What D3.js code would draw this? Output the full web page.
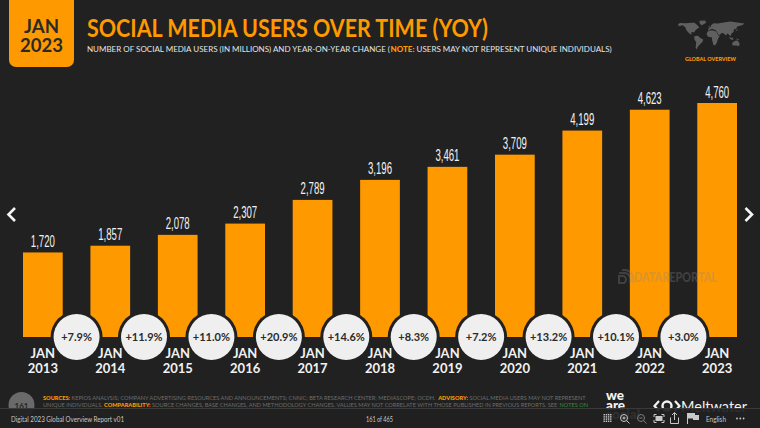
<!DOCTYPE html>
<html>
<head>
<meta charset="utf-8">
<script src="https://d3js.org/d3.v7.min.js"></script>
<style>
html, body { margin: 0; padding: 0; background: #212121; overflow: hidden; }
text { font-family: Lato, sans-serif; }
</style>
</head>
<body>
<div id="chart"></div>
<script>
// chart values
var years = ['2013', '2014', '2015', '2016', '2017', '2018', '2019', '2020', '2021', '2022', '2023'];
var users = [1720, 1857, 2078, 2307, 2789, 3196, 3461, 3709, 4199, 4623, 4760];
var changes = ['+7.9%', '+11.9%', '+11.0%', '+20.9%', '+14.6%', '+8.3%', '+7.2%', '+13.2%', '+10.1%', '+3.0%'];

// rough continents for the little map logo, [lon, lat]
var continents = [
  [[-165,65],[-155,71],[-125,70],[-95,72],[-80,72],[-62,58],[-55,50],[-66,44],[-76,36],[-81,26],[-90,29],[-97,26],[-95,18],[-84,10],[-79,8],[-90,14],[-105,20],[-115,30],[-124,40],[-125,49],[-140,60],[-160,56]],
  [[-55,82],[-25,83],[-20,72],[-42,60],[-52,66]],
  [[-80,10],[-62,11],[-50,0],[-35,-7],[-39,-18],[-50,-28],[-62,-40],[-70,-54],[-74,-45],[-71,-20],[-81,-5]],
  [[-10,36],[-9,44],[-2,49],[5,54],[5,60],[18,70],[40,68],[70,73],[105,78],[140,73],[178,68],[165,60],[140,55],[135,44],[122,40],[122,30],[110,20],[107,10],[100,13],[95,18],[90,22],[80,12],[73,20],[60,25],[57,20],[45,13],[35,30],[28,38],[18,40],[12,44],[3,42]],
  [[-17,15],[-16,25],[-8,35],[10,37],[32,31],[43,11],[51,12],[40,-5],[36,-20],[28,-33],[18,-34],[12,-15],[9,4],[-8,5]],
  [[114,-22],[130,-12],[142,-11],[153,-27],[148,-38],[136,-35],[116,-35]],
  [[96,5],[106,-6],[120,-9],[118,2],[108,2]],
  [[132,-2],[150,-6],[146,-9],[136,-6]],
  [[130,32],[141,44],[143,38],[136,34]],
  [[-6,50],[0,52],[-2,58],[-7,56]]
];

var width = 760, height = 428;
var orange = '#ff9900', bg = '#212121';

var svg = d3.select('#chart').append('svg')
  .attr('width', width)
  .attr('height', height)
  .style('display', 'block');

svg.append('rect').attr('width', width).attr('height', height).attr('fill', bg);

// lays out text runs side by side and sizes the font so the row fills rowWidth
function fitRow(parts, xPos, yPos, rowWidth, color) {
  var base = 10, g = svg.append('g');
  var runs = parts.map(function(p) {
    return g.append('text').attr('y', yPos)
      .attr('fill', p[1] || color)
      .style('font-weight', p[1] === orange ? 900 : 400)
      .style('font-size', base + 'px')
      .style('white-space', 'pre')
      .attr('xml:space', 'preserve')
      .text(p[0]);
  });
  var total = d3.sum(runs, function(r) { return r.node().getComputedTextLength(); });
  var k = rowWidth / total, cur = xPos;
  runs.forEach(function(r) {
    var w = r.node().getComputedTextLength() * k;
    r.attr('x', cur).style('font-size', (base * k) + 'px');
    cur += w;
  });
}

// bars
var x = d3.scaleBand().domain(years).range([23, 737]).paddingInner(0.411).paddingOuter(0);
var y = d3.scaleLinear().domain([0, 4760]).range([337, 103]);

svg.append('g').selectAll('rect')
  .data(users)
  .join('rect')
  .attr('x', function(d, i) { return x(years[i]); })
  .attr('y', function(d) { return y(d); })
  .attr('width', x.bandwidth())
  .attr('height', function(d) { return y(0) - y(d); })
  .attr('fill', orange);

svg.append('g').selectAll('text')
  .data(users)
  .join('text')
  .attr('x', function(d, i) { return x(years[i]) + x.bandwidth() / 2 - 12; })
  .attr('y', function(d) { return y(d) - 5.5; })
  .attr('fill', '#f2f2f2')
  .style('font-family', '"Liberation Sans", sans-serif')
  .style('font-size', '16px')
  .attr('textLength', 24).attr('lengthAdjust', 'spacingAndGlyphs')
  .text(d3.format(','));

// watermark sits on top of the bars
var mark = svg.append('g').attr('opacity', 0.3);
mark.append('text')
  .attr('x', 634).attr('y', 282)
  .attr('fill', '#8a8a8a')
  .style('font-size', '12.5px').style('font-weight', 900)
  .attr('textLength', 83).attr('lengthAdjust', 'spacingAndGlyphs')
  .text('DATAREPORTAL');
mark.append('path')
  .attr('d', 'M619 283v-7h5a4 4 0 0 1 0 7zM619 273h6a7 7 0 0 1 5 10M622 270h4a10 10 0 0 1 7 13')
  .attr('fill', 'none').attr('stroke', '#8a8a8a').attr('stroke-width', 2);

// change bubbles between the bars
var bubbleX = function(i) { return (x(years[i]) + x(years[i + 1]) + x.bandwidth()) / 2; };

var bubbles = svg.append('g').selectAll('g')
  .data(changes)
  .join('g')
  .attr('transform', function(d, i) { return 'translate(' + bubbleX(i) + ',' + y(0) + ')'; });
bubbles.append('circle').attr('r', 26).attr('fill', bg);
bubbles.append('circle').attr('r', 23).attr('fill', '#efefef');
bubbles.append('text')
  .attr('text-anchor', 'middle')
  .attr('dy', 4)
  .attr('fill', '#2b2b2b')
  .style('font-size', '11px').style('font-weight', 700)
  .text(function(d) { return d; });

// year axis, two lines per tick
var axis = d3.axisBottom(x).tickSize(0).tickPadding(0);
var axisG = svg.append('g').attr('transform', 'translate(0,337)').call(axis);
axisG.select('.domain').remove();
axisG.selectAll('.tick text').each(function(d) {
  var t = d3.select(this).text(null)
    .attr('dy', null)
    .attr('y', null)
    .attr('fill', '#f2f2f2')
    .style('font-family', 'Lato, sans-serif')
    .style('font-size', '13px').style('font-weight', 700);
  t.append('tspan').attr('x', 0).attr('y', 21).text('JAN');
  t.append('tspan').attr('x', 0).attr('y', 36).text(d);
});

// date badge
svg.append('path')
  .attr('d', 'M9 0H74V60a7 7 0 0 1 -7 7H16a7 7 0 0 1 -7 -7Z')
  .attr('fill', orange);
svg.append('text').attr('x', 24).attr('y', 33)
  .attr('fill', '#2a2a2a').style('font-size', '18.5px').style('font-weight', 700)
  .attr('textLength', 35).attr('lengthAdjust', 'spacingAndGlyphs').text('JAN');
svg.append('text').attr('x', 20).attr('y', 51.5)
  .attr('fill', '#2a2a2a').style('font-size', '18.5px').style('font-weight', 700)
  .attr('textLength', 43).attr('lengthAdjust', 'spacingAndGlyphs').text('2023');

// titles
svg.append('text').attr('x', 87).attr('y', 36.5)
  .attr('fill', orange)
  .style('font-size', '24px').style('font-weight', 700)
  .attr('textLength', 401).attr('lengthAdjust', 'spacingAndGlyphs')
  .text('SOCIAL MEDIA USERS OVER TIME (YOY)');

fitRow([['NUMBER OF SOCIAL MEDIA USERS (IN MILLIONS) AND YEAR-ON-YEAR CHANGE ('], ['NOTE:', orange], [' USERS MAY NOT REPRESENT UNIQUE INDIVIDUALS)']],
  87, 52, 525, '#e4e4e4');

// map logo
var mapX = d3.scaleLinear().domain([-170, 180]).range([677, 745]);
var mapY = d3.scaleLinear().domain([85, -56]).range([20, 50]);
var ring = d3.line()
  .x(function(d) { return mapX(d[0]); })
  .y(function(d) { return mapY(d[1]); })
  .curve(d3.curveLinearClosed);
svg.append('g').selectAll('path')
  .data(continents)
  .join('path')
  .attr('d', ring)
  .attr('fill', '#5f5f5f');
svg.append('text').attr('x', 685).attr('y', 60.5)
  .attr('fill', orange)
  .style('font-size', '5.4px').style('font-weight', 900)
  .attr('textLength', 51).attr('lengthAdjust', 'spacingAndGlyphs')
  .text('GLOBAL OVERVIEW');

// slide arrows
svg.append('path').attr('d', 'M15 208l-6.5 6.5l6.5 6.5')
  .attr('fill', 'none').attr('stroke', '#f5f5f5').attr('stroke-width', 2.6);
svg.append('path').attr('d', 'M745.5 208l6.5 6.5l-6.5 6.5')
  .attr('fill', 'none').attr('stroke', '#f5f5f5').attr('stroke-width', 2.6);

// source notes
var noteColor = '#6d6d6d';
svg.append('circle').attr('cx', 21.5).attr('cy', 405).attr('r', 13).attr('fill', '#6a6a6a');
svg.append('text').attr('x', 21.5).attr('y', 409).attr('text-anchor', 'middle')
  .attr('fill', '#222').style('font-size', '8px').style('font-weight', 700).text('161');

fitRow([['SOURCES:', orange], [' KEPIOS ANALYSIS; COMPANY ADVERTISING RESOURCES AND ANNOUNCEMENTS; CNNIC; BETA RESEARCH CENTER; MEDIASCOPE; OCDH. '],
  ['ADVISORY:', orange], [' SOCIAL MEDIA USERS MAY NOT REPRESENT']], 43, 399.5, 543, noteColor);
fitRow([['UNIQUE INDIVIDUALS. '], ['COMPARABILITY:', orange], [' SOURCE CHANGES, BASE CHANGES, AND METHODOLOGY CHANGES. VALUES MAY NOT CORRELATE WITH THOSE PUBLISHED IN PREVIOUS REPORTS. SEE '],
  ['NOTES ON', '#2f8f3a']], 43, 407, 545, noteColor);
fitRow([['DATA FOR FURTHER DETAILS.']], 43, 414.5, 70, noteColor);

// logos
svg.append('g').selectAll('text')
  .data(['we', 'are', 'social'])
  .join('text')
  .attr('x', 606)
  .attr('y', function(d, i) { return 400 + i * 9.5; })
  .attr('fill', '#f2f2f2')
  .style('font-size', '13.5px').style('font-weight', 900)
  .text(function(d) { return d; });
svg.append('text').attr('x', 681).attr('y', 412).attr('fill', '#f2f2f2')
  .style('font-size', '15.5px')
  .attr('textLength', 66).attr('lengthAdjust', 'spacingAndGlyphs').text('Meltwater');
svg.append('circle').attr('cx', 667).attr('cy', 406).attr('r', 4.5)
  .attr('fill', 'none').attr('stroke', '#f2f2f2').attr('stroke-width', 2.4);
svg.append('path').attr('d', 'M659 401l-4.5 5l4.5 5M675 401l4.5 5l-4.5 5')
  .attr('fill', 'none').attr('stroke', '#f2f2f2').attr('stroke-width', 2.2);

// viewer toolbar over the slide bottom
svg.append('rect').attr('x', 0).attr('y', 408).attr('width', width).attr('height', 20)
  .attr('fill', '#202020').attr('opacity', 0.93);
svg.append('line').attr('x1', 0).attr('x2', width).attr('y1', 408.5).attr('y2', 408.5)
  .attr('stroke', '#3a3a3a').attr('stroke-width', 1);

var barText = [['Digital 2023 Global Overview Report v01', 11, 113], ['161 of 465', 366, 27], ['English', 706, 20]];
svg.append('g').selectAll('text')
  .data(barText)
  .join('text')
  .attr('x', function(d) { return d[1]; })
  .attr('y', 421.5)
  .attr('fill', '#c9c9c9')
  .style('font-size', '7px')
  .attr('textLength', function(d) { return d[2]; })
  .attr('lengthAdjust', 'spacingAndGlyphs')
  .text(function(d) { return d[0]; });

// toolbar icons
var icons = svg.append('g').attr('fill', 'none').attr('stroke', '#c9c9c9').attr('stroke-width', 1);
var dots = d3.cross([0, 1, 2, 3], [0, 1, 2, 3]);
svg.append('g').selectAll('rect').data(dots).join('rect')
  .attr('x', function(d) { return 603.5 + d[0] * 2.2; })
  .attr('y', function(d) { return 414 + d[1] * 2.2; })
  .attr('width', 1.4).attr('height', 1.4).attr('fill', '#c9c9c9');
icons.append('circle').attr('cx', 624).attr('cy', 418).attr('r', 3.5);
icons.append('path').attr('d', 'M626.5 420.5l3 3M622.5 418h3M624 416.5v3');
icons.append('circle').attr('cx', 641).attr('cy', 418).attr('r', 3.5).attr('stroke', '#7a7a7a');
icons.append('path').attr('d', 'M643.5 420.5l3 3M639.5 418h3').attr('stroke', '#7a7a7a');
icons.append('path').attr('d', 'M654 417v-2.5h2.5M661.5 414.5h2.5v2.5M664 420v2.5h-2.5M656.5 422.5h-2.5v-2.5');
icons.append('rect').attr('x', 656).attr('y', 416.5).attr('width', 6).attr('height', 4).attr('fill', '#c9c9c9');
icons.append('path').attr('d', 'M670.5 417.5v6h8v-6M674.5 420v-7M672 415l2.5-2.5l2.5 2.5');
svg.append('path').attr('d', 'M687 424v-11h8v2h4v5h-6v-1.5h-5v5.5z').attr('fill', '#c9c9c9');
svg.append('g').selectAll('circle').data([0, 1, 2]).join('circle')
  .attr('cx', function(d) { return 737 + d * 3.3; })
  .attr('cy', 418.5).attr('r', 0.9).attr('fill', '#c9c9c9');
</script>
</body>
</html>
